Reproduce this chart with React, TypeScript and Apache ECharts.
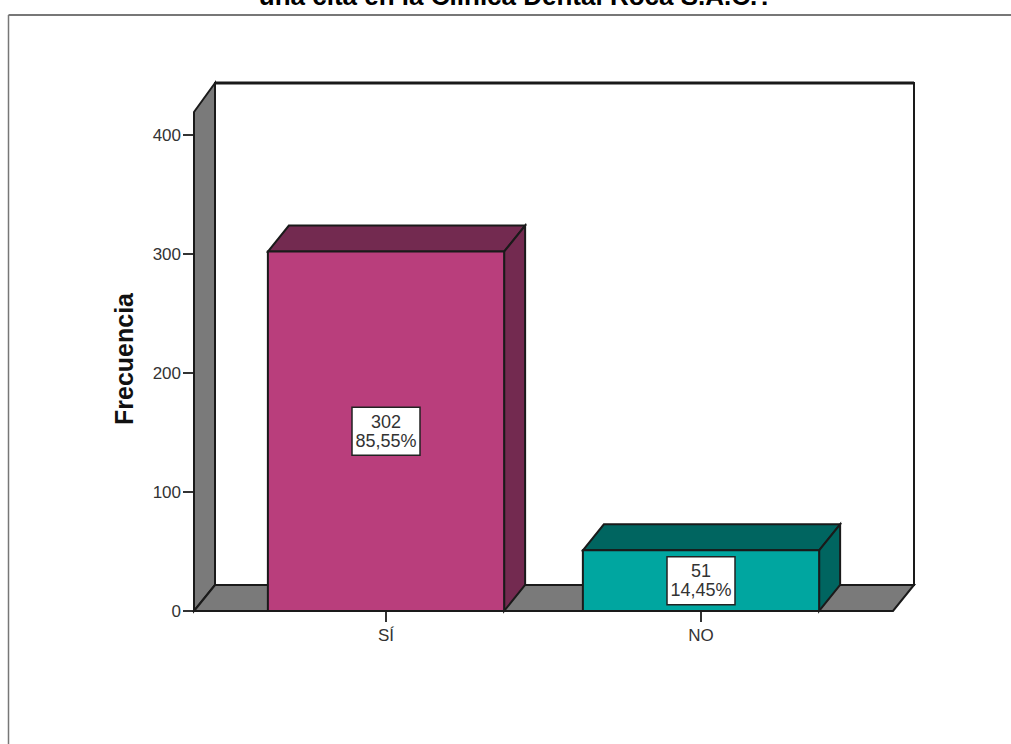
import React, { useEffect, useRef } from "react";
import * as echarts from "echarts";

const categories = ["SÍ", "NO"];
const frequencies = [302, 51];
const percentLabels = ["85,55%", "14,45%"];
const frontColors = ["#b93e7c", "#00a6a0"];
const shadeColors = ["#732a50", "#006560"];
const yTicks = [0, 100, 200, 300, 400];
const titleText = "una cita en la Clínica Dental Roca S.A.C.?";

const DX = 21;
const DY = -26;
const LINE = "#1a1a1a";
const WALL = "#7a7a7a";

export default function App() {
  const ref = useRef<HTMLDivElement>(null);
  useEffect(() => {
    document.body.style.margin = "0";
    const chart = echarts.init(ref.current!, undefined, { renderer: "svg" });
    const font = "'Liberation Sans', Arial, sans-serif";
    const stroke = { stroke: LINE, lineWidth: 2 };
    const poly = (points: number[][], fill: string) => ({
      type: "polygon",
      shape: { points },
      style: { fill, ...stroke },
    });
    chart.setOption({
      animation: false,
      backgroundColor: "#ffffff",
      grid: { left: 228.5, width: 630, top: 135, height: 476 },
      xAxis: {
        type: "category",
        data: categories,
        axisLine: { show: true, lineStyle: { color: LINE, width: 2 } },
        axisTick: { show: true, alignWithLabel: true, length: 11, lineStyle: { color: "#333", width: 2 } },
        axisLabel: { color: "#333", fontFamily: font, fontSize: 17, margin: 16 },
      },
      yAxis: {
        type: "value",
        min: 0,
        max: yTicks[yTicks.length - 1],
        interval: 100,
        offset: 34.5,
        name: "Frecuencia",
        nameLocation: "middle",
        nameGap: 58,
        nameTextStyle: { color: "#111", fontFamily: font, fontSize: 25, fontWeight: "bold", padding: [0, 0, 0, 28] },
        splitLine: { show: false },
        axisLine: { show: true, lineStyle: { color: LINE, width: 2 } },
        axisTick: { show: true, length: 11, lineStyle: { color: "#333", width: 2 } },
        axisLabel: { color: "#333", fontFamily: font, fontSize: 17, margin: 13 },
      },
      graphic: [
        { type: "line", shape: { x1: 8.5, y1: 15, x2: 1011, y2: 15 }, style: { stroke: "#777", lineWidth: 2 } },
        { type: "line", shape: { x1: 8.5, y1: 15, x2: 8.5, y2: 744 }, style: { stroke: "#777", lineWidth: 1.5 } },
        {
          type: "text",
          x: 516,
          y: 9,
          style: { text: titleText, fill: "#000", font: `bold 26px ${font}`, align: "center", verticalAlign: "bottom" },
        },
      ],
      series: [
        {
          type: "custom",
          coordinateSystem: "cartesian2d",
          clip: false,
          z: 1,
          silent: true,
          data: [0],
          encode: { x: [], y: [] },
          renderItem: (params: any) => {
            const c = params.coordSys;
            const x0 = c.x - 34.5;
            const x1 = c.x + c.width + 34.5;
            const yb = c.y + c.height;
            const yt = c.y - 23;
            const backTop = yt + DY - 3;
            return {
              type: "group",
              children: [
                { type: "rect", shape: { x: x0 + DX, y: backTop, width: x1 - x0, height: yb + DY - backTop }, style: { fill: "#fff", ...stroke } },
                { type: "line", shape: { x1: x0 + DX, y1: backTop, x2: x1 + DX, y2: backTop }, style: { stroke: LINE, lineWidth: 3 } },
                poly([[x0, yb], [x0, yt], [x0 + DX, backTop], [x0 + DX, yb + DY]], WALL),
                poly([[x0, yb], [x0 + DX, yb + DY], [x1 + DX, yb + DY], [x1, yb]], WALL),
              ],
            };
          },
        },
        {
          type: "custom",
          coordinateSystem: "cartesian2d",
          clip: false,
          z: 2,
          silent: true,
          data: frequencies.map((v, i) => [i, v]),
          encode: { x: 0, y: 1 },
          renderItem: (params: any, api: any) => {
            const i = params.dataIndex;
            const [cx, top] = api.coord([api.value(0), api.value(1)]);
            const [, base] = api.coord([api.value(0), 0]);
            const halfW = api.size([1, 0])[0] * 0.375;
            const l = cx - halfW;
            const r = cx + halfW;
            const mid = (top + base) / 2;
            const boxW = 68;
            const boxH = 48;
            return {
              type: "group",
              children: [
                poly([[l, top], [l + DX, top + DY], [r + DX, top + DY], [r, top]], shadeColors[i]),
                poly([[r, top], [r + DX, top + DY], [r + DX, base + DY], [r, base]], shadeColors[i]),
                { type: "rect", shape: { x: l, y: top, width: r - l, height: base - top }, style: { fill: frontColors[i], ...stroke } },
                { type: "rect", shape: { x: cx - boxW / 2, y: mid - boxH / 2, width: boxW, height: boxH }, style: { fill: "#fff", stroke: "#222", lineWidth: 1.5 } },
                {
                  type: "text",
                  x: cx,
                  y: mid,
                  style: {
                    text: `${frequencies[i]}\n${percentLabels[i]}`,
                    fill: "#333",
                    font: `18px ${font}`,
                    lineHeight: 18.5,
                    align: "center",
                    verticalAlign: "middle",
                  },
                },
              ],
            };
          },
        },
      ],
    });
    return () => chart.dispose();
  }, []);
  return <div ref={ref} style={{ position: "absolute", left: 0, top: 0, width: 1011, height: 744 }} />;
}
